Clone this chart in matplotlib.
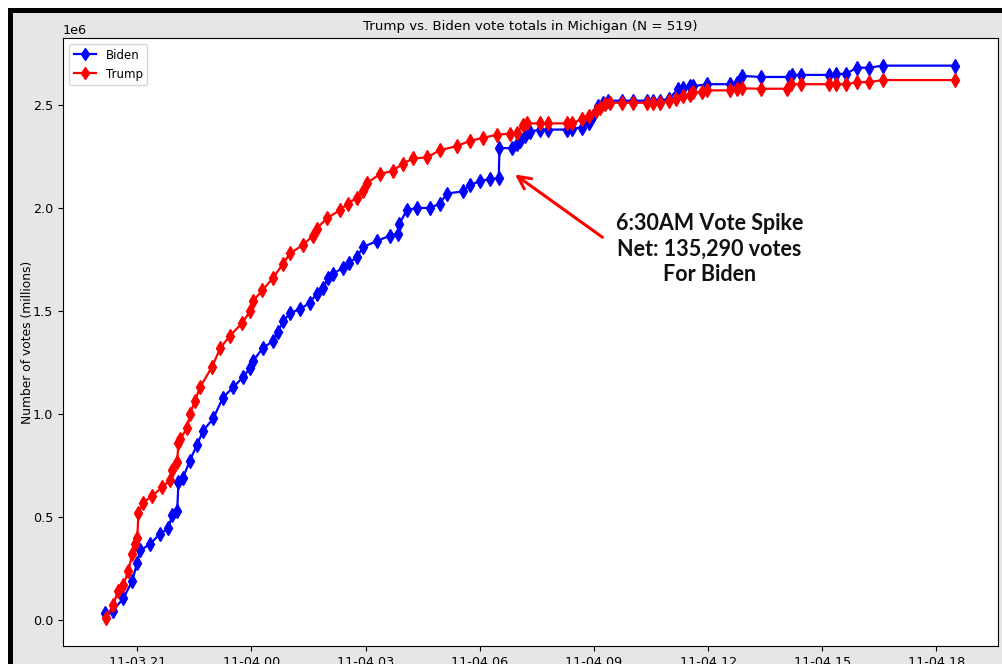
import numpy as np
import pandas as pd
import matplotlib
matplotlib.use("Agg")
import matplotlib.pyplot as plt
import matplotlib.dates as mdates
from matplotlib.patches import Rectangle

# vote totals (times on 2020-11-03 / 11-04, votes in millions)
biden_time = [
    "11-03 20:10", "11-03 20:22", "11-03 20:38", "11-03 20:52", "11-03 21:00", "11-03 21:05",
    "11-03 21:20", "11-03 21:36", "11-03 21:49", "11-03 21:55", "11-03 22:03", "11-03 22:05",
    "11-03 22:12", "11-03 22:23", "11-03 22:34", "11-03 22:44", "11-03 23:00", "11-03 23:15",
    "11-03 23:31", "11-03 23:47", "11-03 23:58", "11-04 00:03", "11-04 00:18", "11-04 00:34",
    "11-04 00:42", "11-04 00:50", "11-04 01:01", "11-04 01:17", "11-04 01:32", "11-04 01:43",
    "11-04 01:53", "11-04 02:01", "11-04 02:09", "11-04 02:24", "11-04 02:34", "11-04 02:46",
    "11-04 02:56", "11-04 03:18", "11-04 03:38", "11-04 03:51", "11-04 03:53", "11-04 04:05",
    "11-04 04:21", "11-04 04:41", "11-04 04:57", "11-04 05:08", "11-04 05:33", "11-04 05:44",
    "11-04 06:00", "11-04 06:16", "11-04 06:30", "11-04 06:31", "11-04 06:51", "11-04 06:58",
    "11-04 07:03", "11-04 07:11", "11-04 07:19", "11-04 07:35", "11-04 07:47", "11-04 08:17",
    "11-04 08:25", "11-04 08:41", "11-04 08:53", "11-04 08:58", "11-04 09:06", "11-04 09:14",
    "11-04 09:22", "11-04 09:45", "11-04 10:01", "11-04 10:23", "11-04 10:33", "11-04 10:44",
    "11-04 10:59", "11-04 11:12", "11-04 11:20", "11-04 11:31", "11-04 11:36", "11-04 11:58",
    "11-04 12:34", "11-04 12:45", "11-04 12:54", "11-04 13:24", "11-04 14:08", "11-04 14:13",
    "11-04 14:27", "11-04 15:11", "11-04 15:22", "11-04 15:38", "11-04 15:54", "11-04 16:14",
    "11-04 16:35", "11-04 18:30",
]
biden_votes = [
    0.034, 0.048, 0.107, 0.19, 0.28, 0.34,
    0.37, 0.42, 0.446, 0.51, 0.53, 0.67,
    0.69, 0.775, 0.85, 0.92, 0.98, 1.08,
    1.13, 1.18, 1.225, 1.26, 1.32, 1.355,
    1.40, 1.45, 1.49, 1.51, 1.54, 1.585,
    1.61, 1.66, 1.68, 1.71, 1.735, 1.76,
    1.81, 1.84, 1.865, 1.875, 1.92, 1.99,
    2.0, 2.0, 2.02, 2.07, 2.08, 2.11,
    2.13, 2.14, 2.145, 2.29, 2.29, 2.31,
    2.325, 2.35, 2.37, 2.38, 2.38, 2.38,
    2.385, 2.39, 2.41, 2.445, 2.495, 2.51,
    2.52, 2.52, 2.52, 2.52, 2.52, 2.52,
    2.53, 2.575, 2.58, 2.59, 2.59, 2.60,
    2.60, 2.605, 2.64, 2.635, 2.635, 2.645,
    2.645, 2.645, 2.65, 2.65, 2.68, 2.68,
    2.69, 2.69,
]

trump_time = [
    "11-03 20:11", "11-03 20:22", "11-03 20:30", "11-03 20:38", "11-03 20:46", "11-03 20:52",
    "11-03 20:57", "11-03 21:00", "11-03 21:02", "11-03 21:09", "11-03 21:24", "11-03 21:39",
    "11-03 21:52", "11-03 21:55", "11-03 22:03", "11-03 22:05", "11-03 22:08", "11-03 22:19",
    "11-03 22:23", "11-03 22:31", "11-03 22:39", "11-03 22:58", "11-03 23:11", "11-03 23:26",
    "11-03 23:45", "11-03 23:58", "11-04 00:03", "11-04 00:17", "11-04 00:34", "11-04 00:50",
    "11-04 01:01", "11-04 01:21", "11-04 01:37", "11-04 01:43", "11-04 01:59", "11-04 02:20",
    "11-04 02:32", "11-04 02:46", "11-04 02:56", "11-04 03:02", "11-04 03:23", "11-04 03:43",
    "11-04 03:59", "11-04 04:15", "11-04 04:37", "11-04 04:57", "11-04 05:24", "11-04 05:44",
    "11-04 06:05", "11-04 06:27", "11-04 06:47", "11-04 06:58", "11-04 07:08", "11-04 07:14",
    "11-04 07:35", "11-04 07:47", "11-04 08:17", "11-04 08:25", "11-04 08:41", "11-04 08:53",
    "11-04 09:04", "11-04 09:09", "11-04 09:17", "11-04 09:25", "11-04 09:45", "11-04 10:01",
    "11-04 10:23", "11-04 10:33", "11-04 10:44", "11-04 10:59", "11-04 11:10", "11-04 11:20",
    "11-04 11:31", "11-04 11:36", "11-04 11:51", "11-04 11:59", "11-04 12:34", "11-04 12:45",
    "11-04 12:53", "11-04 13:24", "11-04 14:05", "11-04 14:11", "11-04 14:27", "11-04 15:11",
    "11-04 15:22", "11-04 15:38", "11-04 15:54", "11-04 16:14", "11-04 16:35", "11-04 18:30",
]
trump_votes = [
    0.01, 0.073, 0.145, 0.17, 0.24, 0.32,
    0.37, 0.40, 0.52, 0.57, 0.605, 0.645,
    0.68, 0.727, 0.77, 0.86, 0.88, 0.935,
    1.0, 1.065, 1.13, 1.23, 1.32, 1.38,
    1.44, 1.50, 1.55, 1.60, 1.66, 1.73,
    1.78, 1.82, 1.865, 1.90, 1.95, 1.99,
    2.02, 2.05, 2.08, 2.12, 2.165, 2.18,
    2.215, 2.24, 2.245, 2.28, 2.30, 2.325,
    2.34, 2.355, 2.36, 2.365, 2.40, 2.41,
    2.41, 2.41, 2.41, 2.41, 2.43, 2.445,
    2.47, 2.485, 2.505, 2.51, 2.51, 2.51,
    2.51, 2.51, 2.51, 2.52, 2.53, 2.545,
    2.55, 2.56, 2.56, 2.57, 2.57, 2.575,
    2.58, 2.578, 2.578, 2.60, 2.60, 2.60,
    2.60, 2.60, 2.61, 2.61, 2.62, 2.62,
]

n_points = 519
spike_text = "6:30AM Vote Spike\nNet: 135,290 votes\nFor Biden"


def to_dt(labels):
    return pd.to_datetime(["2020-" + s for s in labels])


W, H = 1003, 664
fig = plt.figure(figsize=(W / 100, H / 100), dpi=100, facecolor="#e6e6e6")
ax = fig.add_axes([63 / W, 18 / H, 935 / W, 608 / H])

fs = 9.2

ax.plot(to_dt(biden_time), np.array(biden_votes) * 1e6, color="blue", marker="d",
        markersize=7.5, linewidth=1.6, label="Biden")
ax.plot(to_dt(trump_time), np.array(trump_votes) * 1e6, color="red", marker="d",
        markersize=7.5, linewidth=1.6, label="Trump")

ax.xaxis.set_major_locator(mdates.HourLocator(byhour=range(0, 24, 3)))
ax.xaxis.set_major_formatter(mdates.DateFormatter("%m-%d %H"))
ax.tick_params(labelsize=fs)
ax.yaxis.get_offset_text().set_fontsize(fs)

ax.set_title(f"Trump vs. Biden vote totals in Michigan (N = {n_points})", fontsize=9.6)
ax.set_ylabel("Number of votes (millions)", fontsize=8.8, labelpad=-1)
ax.legend(loc="upper left", fontsize=8.5, markerscale=0.8, handlelength=1.9)

# arrow pointing at the 6:30 jump
ax.annotate("", xy=(to_dt(["11-04 06:52"])[0], 2.17e6),
            xytext=(to_dt(["11-04 09:17"])[0], 1.85e6),
            arrowprops=dict(arrowstyle="->,head_length=0.9,head_width=0.45",
                            color="red", lw=2.2))
ax.text(to_dt(["11-04 12:02"])[0], 1.80e6, spike_text, ha="center", va="center",
        fontsize=15.5, fontweight="bold", family="Lato", linespacing=1.28, color="#111111")

# screenshot frame: white margin and black edge on top/left
fig.add_artist(Rectangle((0, 656 / H), 1, 8 / H, transform=fig.transFigure,
                         facecolor="white", edgecolor="none"))
fig.add_artist(Rectangle((8 / W, 651 / H), 1, 5 / H, transform=fig.transFigure,
                         facecolor="black", edgecolor="none"))
fig.add_artist(Rectangle((0, 0), 8 / W, 1, transform=fig.transFigure,
                         facecolor="white", edgecolor="none"))
fig.add_artist(Rectangle((8 / W, 0), 5 / W, 656 / H, transform=fig.transFigure,
                         facecolor="black", edgecolor="none"))

fig.savefig("out.png", dpi=100, facecolor=fig.get_facecolor())
